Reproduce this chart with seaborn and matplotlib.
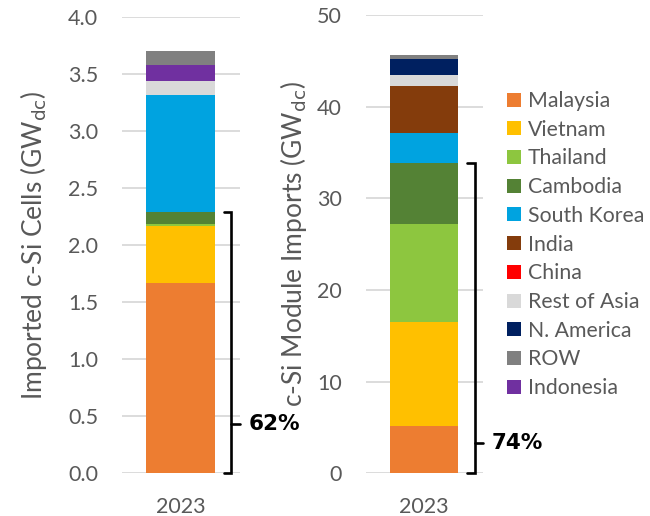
import matplotlib
matplotlib.use('Agg')
import matplotlib.pyplot as plt
import seaborn as sns
import pandas as pd
from matplotlib.lines import Line2D

# --- data ---
stack_order = ['Malaysia', 'Vietnam', 'Thailand', 'Cambodia', 'South Korea',
               'India', 'China', 'Rest of Asia', 'N. America', 'Indonesia', 'ROW']
legend_order = ['Malaysia', 'Vietnam', 'Thailand', 'Cambodia', 'South Korea',
                'India', 'China', 'Rest of Asia', 'N. America', 'ROW', 'Indonesia']
year = '2023'
cells_gw = [1.67, 0.50, 0.015, 0.105, 1.025, 0.0, 0.0, 0.125, 0.0, 0.135, 0.125]
modules_gw = [5.17, 11.39, 10.67, 6.67, 3.27, 5.03, 0.0, 1.20, 1.85, 0.0, 0.35]
bracket_n = 4  # Malaysia..Cambodia
cells_mid = 0.43
modules_mid = 3.3

palette = {
    'Malaysia': '#ED7D31',
    'Vietnam': '#FFC000',
    'Thailand': '#8DC63F',
    'Cambodia': '#548235',
    'South Korea': '#00A3E0',
    'India': '#843C0C',
    'China': '#FF0000',
    'Rest of Asia': '#D9D9D9',
    'N. America': '#002060',
    'ROW': '#808080',
    'Indonesia': '#7030A0',
}

sns.set_style('white')
plt.rcParams['font.family'] = ['Lato', 'DejaVu Sans']
grey = '#595959'

fig = plt.figure(figsize=(6.5, 5.16), dpi=100)
ax1 = fig.add_axes([121.7 / 650, 42.7 / 516, 118 / 650, 456.3 / 516])
ax2 = fig.add_axes([365.7 / 650, 42.7 / 516, 117 / 650, 458.3 / 516])


def stacked(ax, values, ymax, step, fmt, ylabel, mid, label_x):
    df = pd.DataFrame({'Region': stack_order, 'GW': values, 'Year': year})
    df['cum'] = df['GW'].cumsum()
    # draw cumulative bars from the top down so lower segments cover upper ones
    for region in stack_order[::-1]:
        row = df[df['Region'] == region]
        sns.barplot(data=row, x='Year', y='cum', ax=ax, color=palette[region],
                    width=0.58, saturation=1, linewidth=0, zorder=3)
    ax.set_xlim(-0.5, 0.5)
    ax.set_ylim(0, ymax)
    ticks = [i * step for i in range(int(round(ymax / step)) + 1)]
    ax.set_yticks(ticks)
    ax.set_yticklabels([fmt.format(t) for t in ticks])
    ax.yaxis.grid(True, color='#D9D9D9', linewidth=1.3, zorder=0)
    ax.set_axisbelow(True)
    sns.despine(ax=ax, left=True, top=True, right=True, bottom=True)
    ax.tick_params(axis='both', length=0, labelsize=15.5, colors=grey)
    ax.tick_params(axis='y', pad=17)
    ax.tick_params(axis='x', pad=17)
    ax.set_xlabel('')
    ax.set_ylabel(ylabel, fontsize=19, color=grey)
    ax.yaxis.set_label_coords(label_x, 0.5)

    top = df['GW'].iloc[:bracket_n].sum()
    total = df['GW'].sum()
    xb, xh, xt = 0.43, 0.365, 0.50
    ax.plot([xh, xb, xb, xh], [top, top, 0, 0], color='black',
            linewidth=1.9, clip_on=False, zorder=4, solid_joinstyle='miter')
    ax.plot([xb, xt], [mid, mid], color='black', linewidth=1.9,
            clip_on=False, zorder=4)
    ax.text(0.575, mid, f'{round(top / total * 100):.0f}%', fontsize=15.5,
            fontweight='bold', family=['DejaVu Sans'],
            color='black', va='center', ha='left')


stacked(ax1, cells_gw, 4.0, 0.5, '{:.1f}', 'Imported c-Si Cells (GW$_{\\mathrm{dc}}$)',
        cells_mid, -0.616)
stacked(ax2, modules_gw, 50, 10, '{:.0f}', 'c-Si Module Imports (GW$_{\\mathrm{dc}}$)',
        modules_mid, -0.485)

handles = [Line2D([0], [0], marker='s', linestyle='none', markersize=10,
                  markerfacecolor=palette[r], markeredgewidth=0, label=r)
           for r in legend_order]
leg = fig.legend(handles=handles, loc='upper left',
                 bbox_to_anchor=(507 / 650, 1 - 91 / 516), frameon=False,
                 fontsize=15.3, handlelength=0.7, handletextpad=0.27,
                 labelspacing=0.41, borderpad=0, borderaxespad=0)
for t in leg.get_texts():
    t.set_color(grey)

fig.savefig('out.png', dpi=100)
